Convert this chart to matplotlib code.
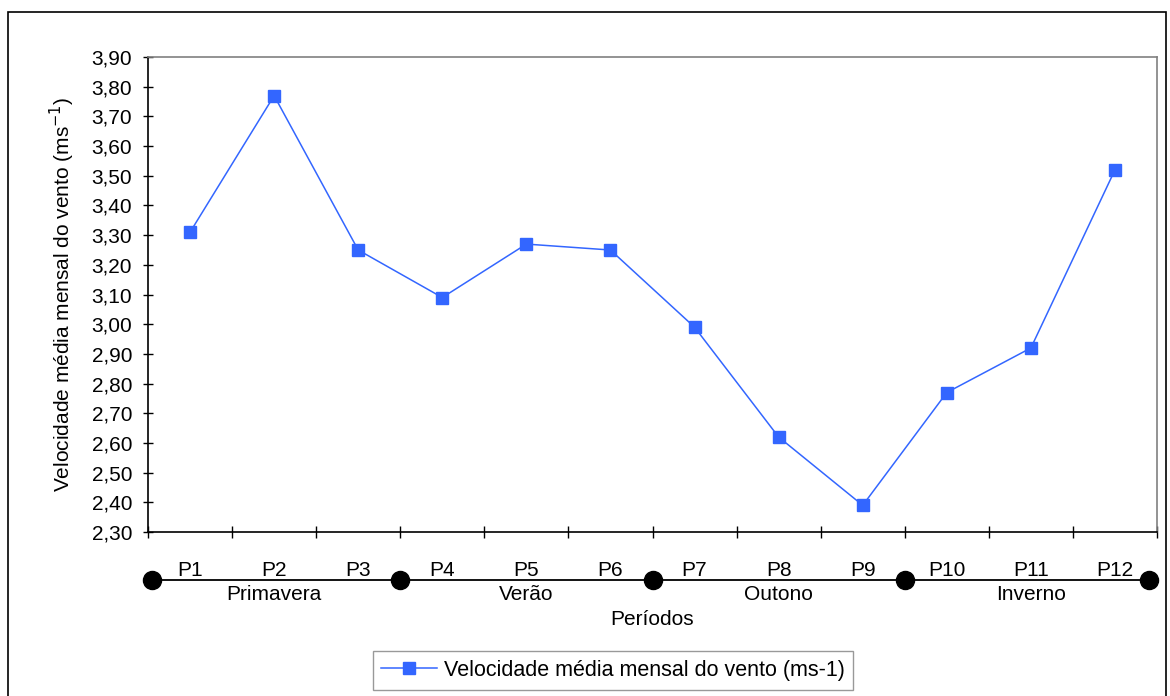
import matplotlib
matplotlib.use("Agg")
import matplotlib.pyplot as plt
from matplotlib.patches import Rectangle
import numpy as np

plt.rcParams['font.family'] = ['Liberation Sans', 'DejaVu Sans']

# data
periods = ['P1', 'P2', 'P3', 'P4', 'P5', 'P6', 'P7', 'P8', 'P9', 'P10', 'P11', 'P12']
velocidade = [3.31, 3.77, 3.25, 3.09, 3.27, 3.25, 2.99, 2.62, 2.39, 2.77, 2.92, 3.52]
seasons = ['Primavera', 'Verão', 'Outono', 'Inverno']
periods_per_season = 3
y_ticks = [2.30, 2.40, 2.50, 2.60, 2.70, 2.80, 2.90, 3.00, 3.10, 3.20, 3.30, 3.40, 3.50, 3.60, 3.70, 3.80, 3.90]

blue = '#3366FF'
fs = 15

fig = plt.figure(figsize=(11.7, 6.96), dpi=100)
ax = fig.add_axes([0.1265, 0.2356, 0.8624, 0.6824])

x = np.arange(len(periods))
ax.plot(x, velocidade, color=blue, lw=1.1, marker='s', markersize=8.5,
        label='Velocidade média mensal do vento (ms-1)')

ax.set_xlim(-0.5, len(periods) - 0.5)
ax.set_ylim(y_ticks[0], y_ticks[-1])
ax.set_yticks(y_ticks)
ax.set_yticklabels([f'{v:.2f}'.replace('.', ',') for v in y_ticks], fontsize=fs)
ax.set_xticks(np.arange(len(periods) + 1) - 0.5)
ax.set_xticklabels([])
ax.tick_params(axis='y', direction='inout', length=7, width=1, pad=8)
ax.tick_params(axis='x', direction='inout', length=9, width=1)

ax.spines['left'].set_color('black')
ax.spines['bottom'].set_color('black')
ax.spines['top'].set_color('#808080')
ax.spines['right'].set_color('#808080')
for s in ax.spines.values():
    s.set_linewidth(1.2)

ax.set_ylabel('Velocidade média mensal do vento (ms$^{-1}$)', fontsize=fs, labelpad=10)

# period labels and season line below the axis
trans = ax.get_xaxis_transform()
for i, p in enumerate(periods):
    ax.text(i, -0.08, p, transform=trans, ha='center', va='center', fontsize=fs)

bounds = np.arange(0, len(periods) + 1, periods_per_season) - 0.5
bounds_dots = bounds.copy()
bounds_dots[0] += 0.05
bounds_dots[-1] -= 0.1
ax.plot([bounds_dots[0], bounds_dots[-1]], [-0.101, -0.101], transform=trans,
        color='black', lw=1.3, clip_on=False)
ax.plot(bounds_dots, [-0.101] * len(bounds_dots), transform=trans, ls='none',
        marker='o', markersize=13, color='black', clip_on=False)
for k, s in enumerate(seasons):
    mid = (bounds[k] + bounds[k + 1]) / 2
    ax.text(mid, -0.132, s, transform=trans, ha='center', va='center', fontsize=fs)

ax.text(0.5, -0.184, 'Períodos', transform=ax.transAxes, ha='center', va='center', fontsize=fs)

leg = fig.legend(loc='center', bbox_to_anchor=(0.524, 0.0366), fontsize=15.5,
                 frameon=True, fancybox=False, edgecolor='#808080',
                 handlelength=2.6, handletextpad=0.3, borderpad=0.4, markerscale=1.1)
leg.get_frame().set_linewidth(1)

# outer chart border
fig.patches.append(Rectangle((0.007, -0.01), 0.99, 0.993, transform=fig.transFigure,
                             fill=False, edgecolor='black', lw=1.2))

fig.savefig('out.png', dpi=100)
